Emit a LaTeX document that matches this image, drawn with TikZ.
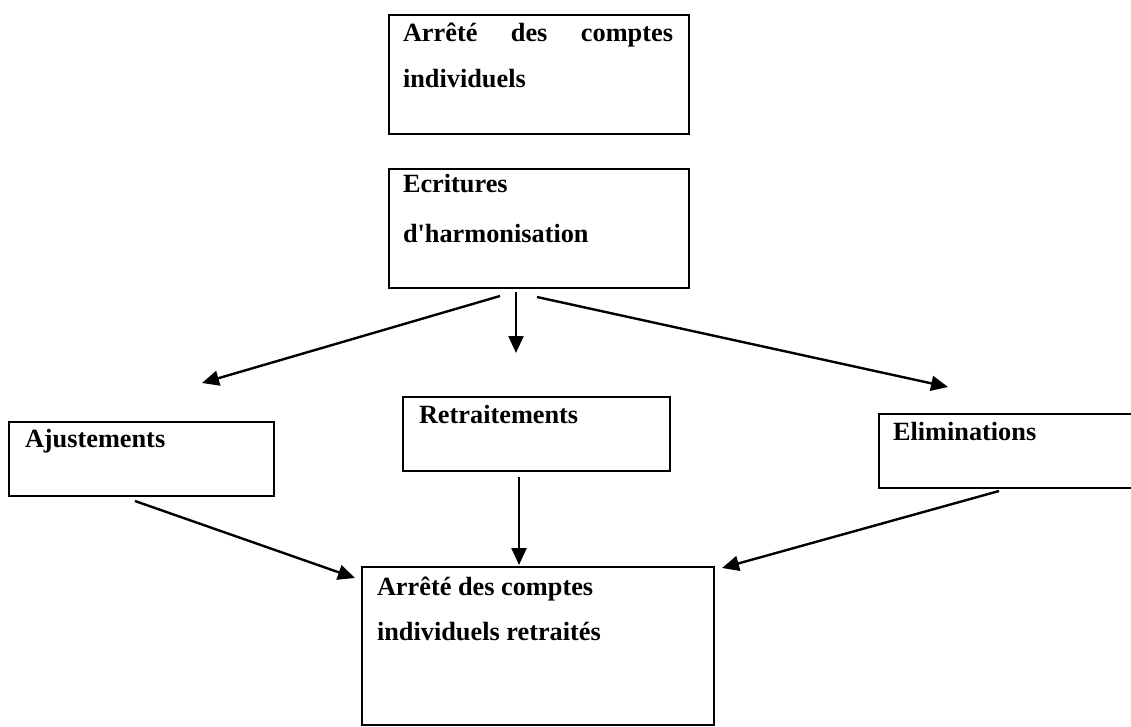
\documentclass[tikz,border=0pt]{standalone}
\usepackage{fontspec}
\setmainfont{Liberation Serif}
\usetikzlibrary{arrows.meta}
\begin{document}
\begin{tikzpicture}[x=1pt,y=-1pt,
  box/.style={draw=black, line width=2.4pt, rectangle, anchor=north west,
    inner sep=0pt, outer sep=0pt},
  lbl/.style={anchor=base west, inner sep=0pt, outer sep=0pt,
    font=\fontsize{26.3}{46}\selectfont\bfseries},
  link/.style={line width=2.4pt, -{Triangle[length=17pt,width=15pt]}}]
\useasboundingbox (0,0) rectangle (1131,727);
\fill[white] (0,0) rectangle (1131,727);

% boxes
\node[box, minimum width=300pt, minimum height=119pt] (arrete) at (389,15) {};
\node[box, minimum width=300pt, minimum height=119pt] (ecrit) at (389,169) {};
\node[box, minimum width=265pt, minimum height=74pt] (ajust) at (9,422) {};
\node[box, minimum width=267pt, minimum height=74pt] (retrait) at (403,397) {};
\node[box, minimum width=270pt, minimum height=74pt] (elim) at (879,414) {};
\node[box, minimum width=352pt, minimum height=158pt] (final) at (362,567) {};

% texts
\node[lbl] (t1a) at (403,42) {\makebox[270pt][s]{Arrêté des comptes}};
\node[lbl] (t1b) at (403,88) {individuels};
\node[lbl] (t2a) at (403,193) {Ecritures};
\node[lbl] (t2b) at (403,242) {d\textquotesingle harmonisation};
\node[lbl] (t3) at (25,447) {Ajustements};
\node[lbl] (t4) at (419,423) {Retraitements};
\node[lbl] (t5) at (893,440) {Eliminations};
\node[lbl] (t6a) at (377,595) {Arrêté des comptes};
\node[lbl] (t6b) at (377,640) {individuels retraités};

% connector end points
\coordinate (e1s) at (500,296);
\coordinate (e1t) at (202,383);
\coordinate (e2s) at (516,292);
\coordinate (e2t) at (516,353);
\coordinate (e3s) at (537,297);
\coordinate (e3t) at (948,387);
\coordinate (a1s) at (135,501);
\coordinate (a1t) at (355,578);
\coordinate (r1s) at (519,477);
\coordinate (r1t) at (519,565);
\coordinate (l1s) at (999,491);
\coordinate (l1t) at (722,568);

\draw[link] (e1s) -- (e1t);
\draw[link] (e2s) -- (e2t);
\draw[link] (e3s) -- (e3t);
\draw[link] (a1s) -- (a1t);
\draw[link] (r1s) -- (r1t);
\draw[link] (l1s) -- (l1t);
\end{tikzpicture}
\end{document}
